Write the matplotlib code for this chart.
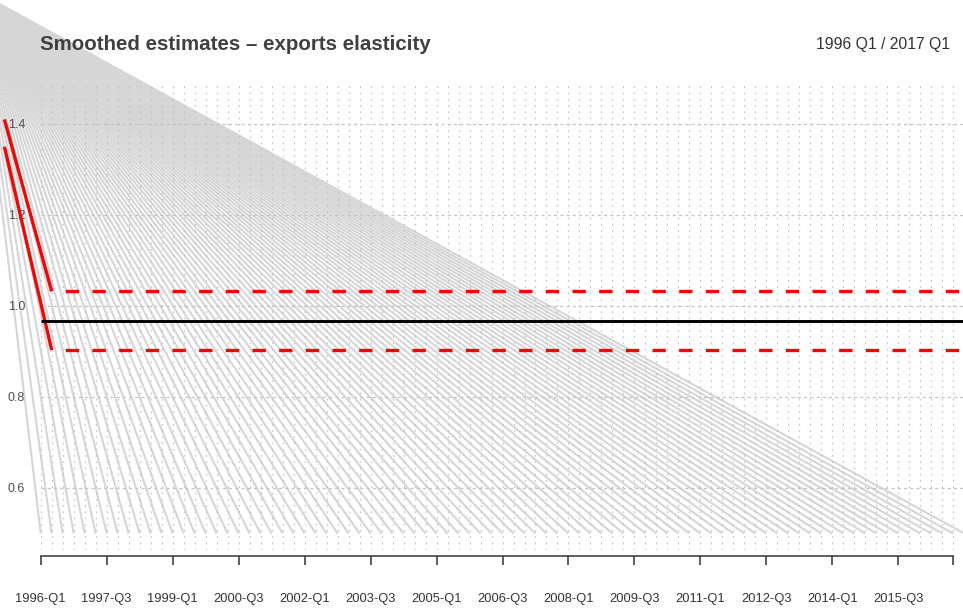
import matplotlib
matplotlib.use("Agg")
import matplotlib.pyplot as plt
import numpy as np

plt.rcParams['font.family'] = ['Liberation Sans', 'DejaVu Sans']

# ---------------- data ----------------
n_quarters = 85                       # 1996-Q1 .. 2017-Q1
quarter_idx = list(range(n_quarters))
tick_idx = list(range(0, 84, 6)) + [83]
tick_labels = ['1996-Q1', '1997-Q3', '1999-Q1', '2000-Q3', '2002-Q1', '2003-Q3',
               '2005-Q1', '2006-Q3', '2008-Q1', '2009-Q3', '2011-Q1', '2012-Q3',
               '2014-Q1', '2015-Q3', '']
y_ticks = [0.6, 0.8, 1.0, 1.2, 1.4]
y_tick_labels = ['0.6', '0.8', '1.0', '1.2', '1.4']

estimate = [0.967] * n_quarters                     # smoothed estimate (black)
upper_x = [-3.3] + list(range(1, n_quarters))
upper_band = [1.41] + [1.032] * (n_quarters - 1)     # upper band (red)
lower_x = [-3.3] + list(range(1, n_quarters))
lower_band = [1.35] + [0.903] * (n_quarters - 1)     # lower band (red)

fan_origin_x = -5.88      # spurious gray segments (start)
fan_origin_y = 1.692
fan_end_y = 0.5           # spurious gray segments (end, one per quarter)

title = 'Smoothed estimates \u2013 exports elasticity'
period = '1996 Q1 / 2017 Q1'

# ---------------- figure ----------------
W, H = 963, 611
fig = plt.figure(figsize=(W / 100, H / 100), dpi=100)
ax_left, ax_right, ax_top, ax_bot = 40.7, 963, 85, 550
ax = fig.add_axes([ax_left / W, (H - ax_bot) / H, (ax_right - ax_left) / W, (ax_bot - ax_top) / H])
ax.set_xlim(0, 83.88)
ax.set_ylim(0.4637, 1.4857)
for s in ['top', 'right', 'left']:
    ax.spines[s].set_visible(False)

# gray fan
for i in quarter_idx:
    ax.plot([fan_origin_x, i], [fan_origin_y, fan_end_y], color='#d6d6d6', lw=1.5,
            clip_on=False, zorder=1, solid_capstyle='butt')

# grid
for i in range(0, 84):
    ax.axvline(i, color='#c4c4c4', lw=0.9, linestyle=(0, (1.3, 3.7)), zorder=2)
for v in y_ticks:
    ax.axhline(v, color='#c4c4c4', lw=0.9, linestyle=(0, (2.5, 2.5)), zorder=2)

# bands and estimate
ax.plot(upper_x[:2], upper_band[:2], color='#ff0000', lw=2.4, clip_on=False, zorder=4,
        solid_capstyle='butt')
ax.plot(lower_x[:2], lower_band[:2], color='#ff0000', lw=2.4, clip_on=False, zorder=4,
        solid_capstyle='butt')
ax.plot(upper_x[1:], upper_band[1:], color='#ff0000', lw=2.4, linestyle=(4, (4, 4)),
        zorder=4, dash_capstyle='butt')
ax.plot(lower_x[1:], lower_band[1:], color='#ff0000', lw=2.4, linestyle=(4, (4, 4)),
        zorder=4, dash_capstyle='butt')
ax.plot(quarter_idx, estimate, color='black', lw=2.1, zorder=5, solid_capstyle='butt')

# axes
ax.set_yticks(y_ticks)
ax.set_yticklabels(y_tick_labels, fontsize=9, color='#4d4d4d')
ax.tick_params(axis='y', length=0, pad=11.3)

ax.spines['bottom'].set_position(('outward', 4.3))
ax.spines['bottom'].set_bounds(0, 83)
ax.spines['bottom'].set_color('#333333')
ax.spines['bottom'].set_linewidth(1.1)
ax.set_xticks(tick_idx)
ax.set_xticklabels(tick_labels, fontsize=9.3, color='#333333')
ax.tick_params(axis='x', length=6.5, width=1.1, color='#333333', pad=20.5)

fig.text(40 / W, (H - 45) / H, title, fontsize=14.8, fontweight='bold', color='#404040',
         ha='left', va='center')
fig.text(950 / W, (H - 45) / H, period, fontsize=11.3, color='#333333', ha='right', va='center')

fig.savefig('out.png', dpi=100)
